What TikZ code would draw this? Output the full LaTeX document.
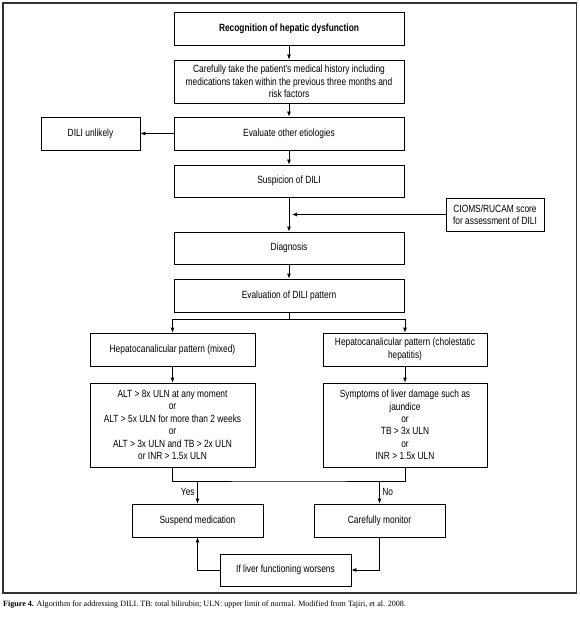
\documentclass[tikz,border=0pt]{standalone}
\usepackage{fontspec}
\setmainfont{Liberation Sans}
\newfontfamily\boxfont{Liberation Sans}[FakeStretch=0.8]
\newfontfamily\capfont{Liberation Serif}
\usetikzlibrary{arrows.meta}
\begin{document}
\begin{tikzpicture}[x=1bp,y=-1bp,
  box/.style={draw, line width=0.8bp, inner sep=0pt, align=center,
    font=\boxfont\fontsize{10.5}{12.5}\selectfont},
  arr/.style={-{Latex[length=5bp,width=4bp]}, line width=0.8bp},
  ln/.style={line width=0.8bp},
  lbl/.style={font=\boxfont\fontsize{10.5}{12.5}\selectfont, inner sep=2.5bp}]
\useasboundingbox (0,0) rectangle (580,622);
\draw[line width=1.3bp, black!80] (3,3) rectangle (576.5,593);

\node[box, minimum width=230bp, minimum height=33bp] (rec) at (289,28.5) {\bfseries Recognition of hepatic dysfunction};
\node[box, minimum width=230bp, minimum height=43bp] (hist) at (289,81.5) {Carefully take the patient's medical history including\\medications taken within the previous three months and\\risk factors};
\node[box, minimum width=230bp, minimum height=33bp] (etio) at (289,133.5) {Evaluate other etiologies};
\node[box, minimum width=99bp, minimum height=33bp] (unlikely) at (90.5,133.5) {DILI unlikely};
\node[box, minimum width=230bp, minimum height=32bp] (susp) at (289,181) {Suspicion of DILI};
\node[box, minimum width=98bp, minimum height=33bp] (cioms) at (495,214.5) {CIOMS/RUCAM score\\for assessment of DILI};
\node[box, minimum width=230bp, minimum height=32bp] (diag) at (289,248) {Diagnosis};
\node[box, minimum width=230bp, minimum height=33bp] (pattern) at (289,295.5) {Evaluation of DILI pattern};
\node[box, minimum width=165bp, minimum height=33bp] (mixed) at (172.5,349.5) {Hepatocanalicular pattern (mixed)};
\node[box, minimum width=164bp, minimum height=33bp] (chol) at (405,349.5) {Hepatocanalicular pattern (cholestatic\\hepatitis)};
\node[box, minimum width=165bp, minimum height=84bp] (critL) at (172.5,425) {ALT > 8x ULN at any moment\\or\\ALT > 5x ULN for more than 2 weeks\\or\\ALT > 3x ULN and TB > 2x ULN\\or INR > 1.5x ULN};
\node[box, minimum width=164bp, minimum height=84bp] (critR) at (405,425) {Symptoms of liver damage such as\\jaundice\\or\\TB > 3x ULN\\or\\INR > 1.5x ULN};
\node[box, minimum width=131bp, minimum height=33bp] (susm) at (197.5,520.5) {Suspend medication};
\node[box, minimum width=131bp, minimum height=33bp] (mon) at (379.5,520.5) {Carefully monitor};
\node[box, minimum width=131bp, minimum height=32bp] (wor) at (285.5,570) {If liver functioning worsens};

\draw[arr] (rec) -- (hist);
\draw[arr] (hist) -- (etio);
\draw[arr] (etio) -- (unlikely);
\draw[arr] (etio) -- (susp);
\draw[arr] (susp) -- (diag);
\draw[arr, shorten >=3bp] (cioms.west) -- (cioms.west -| susp.south);
\draw[arr] (diag) -- (pattern);
\coordinate (split) at (289,319);
\draw[ln] (pattern.south) -- (split);
\draw[arr] (split) -| (mixed.north);
\draw[arr] (split) -| (chol.north);
\draw[arr] (mixed) -- (critL);
\draw[arr] (chol) -- (critR);
\coordinate (join) at (289,481);
\draw[ln] (critL.south) |- (join) -| (critR.south);
\draw[arr] (susm.north |- join) -- (susm.north) node[lbl, midway, left] {Yes};
\draw[arr] (mon.north |- join) -- (mon.north) node[lbl, midway, right] {No};
\draw[arr] (mon.south) |- (wor.east);
\draw[arr] (wor.west) -| (susm.south);

\node[anchor=west, inner sep=0pt, font=\capfont\fontsize{8.1}{9.5}\selectfont] (cap) at (3,605) {\textbf{Figure 4.} Algorithm for addressing DILI. TB: total bilirubin; ULN: upper limit of normal. Modified from Tajiri, et al. 2008.};
\end{tikzpicture}
\end{document}
